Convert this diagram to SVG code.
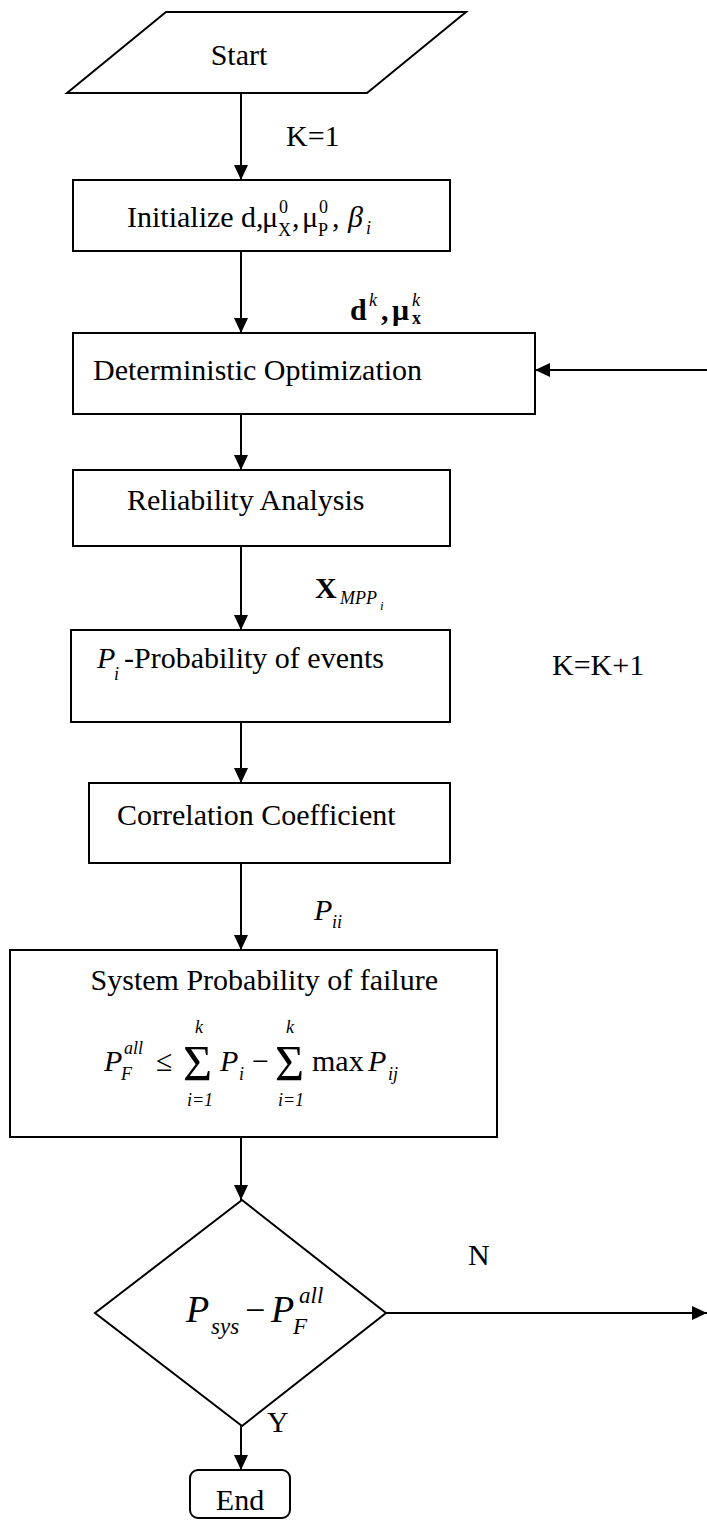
<svg xmlns="http://www.w3.org/2000/svg" width="707" height="1522" viewBox="0 0 707 1522">
<defs>
<style>
.t{font-family:"Liberation Serif","Times New Roman",serif;font-size:30px;fill:#000}
.i{font-style:italic}
.b{font-weight:bold}
.s{font-size:18px}
.box{fill:#fff;stroke:#000;stroke-width:2}
.conn line{stroke:#000;stroke-width:2;fill:none}
</style>
<marker id="ah" viewBox="0 0 15 14" refX="15" refY="7" markerWidth="15" markerHeight="14" markerUnits="userSpaceOnUse" orient="auto">
<path d="M0,0 L15,7 L0,14 z" fill="#000"/>
</marker>
</defs>
<rect width="707" height="1522" fill="#fff"/>

<g id="start">
<polygon class="box" points="166,12 466,12 367,93 67,93"/>
<text class="t" x="239" y="65" text-anchor="middle">Start</text>
</g>

<g id="init">
<rect class="box" x="73" y="180" width="377" height="71"/>
<text class="t" x="127" y="227">Initialize d,</text>
<text class="t" x="262" y="227">μ</text>
<text class="t s" x="279" y="213">0</text>
<text class="t s" x="278" y="236">X</text>
<text class="t" x="292" y="227">,</text>
<text class="t" x="302" y="227">μ</text>
<text class="t s" x="319" y="213">0</text>
<text class="t s" x="318" y="236">P</text>
<text class="t" x="332" y="227">,</text>
<text class="t i" x="348" y="227">β</text>
<text class="t i s" x="366" y="234">i</text>
</g>

<g id="determ">
<rect class="box" x="73" y="333" width="462" height="81"/>
<text class="t" x="93" y="380">Deterministic Optimization</text>
</g>

<g id="reliab">
<rect class="box" x="73" y="470" width="377" height="76"/>
<text class="t" x="127" y="510">Reliability Analysis</text>
</g>

<g id="prob">
<rect class="box" x="71" y="630" width="379" height="92"/>
<text class="t i" x="97" y="668">P</text>
<text class="t i s" x="114" y="680">i</text>
<text class="t" x="124" y="668">-Probability of events</text>
</g>

<g id="corr">
<rect class="box" x="89" y="783" width="361" height="80"/>
<text class="t" x="117" y="825">Correlation Coefficient</text>
</g>

<g id="system">
<rect class="box" x="10" y="950" width="487" height="187"/>
<text class="t" x="438" y="990" text-anchor="end">System Probability of failure</text>
<text class="t i" x="104" y="1071">P</text>
<text class="t i s" x="124" y="1054">all</text>
<text class="t i s" x="121" y="1080">F</text>
<text class="t" x="156" y="1071">≤</text>
<text class="t" x="183" y="1080" style="font-size:50px">Σ</text>
<text class="t i s" x="199" y="1033" text-anchor="middle">k</text>
<text class="t i s" x="200" y="1106" text-anchor="middle">i=1</text>
<text class="t i" x="220" y="1071">P</text>
<text class="t i s" x="239" y="1080">i</text>
<text class="t" x="252" y="1071">−</text>
<text class="t" x="275" y="1080" style="font-size:50px">Σ</text>
<text class="t i s" x="290" y="1033" text-anchor="middle">k</text>
<text class="t i s" x="291" y="1106" text-anchor="middle">i=1</text>
<text class="t" x="312" y="1071">max</text>
<text class="t i" x="368" y="1071">P</text>
<text class="t i s" x="388" y="1080">ij</text>
</g>

<g id="decision">
<polygon class="box" points="242,1200 386,1313 242,1426 95,1313"/>
<text class="t i" x="186" y="1322" style="font-size:38px">P</text>
<text class="t i" x="211" y="1334" style="font-size:23px">sys</text>
<text class="t" x="245" y="1322" style="font-size:36px">−</text>
<text class="t i" x="271" y="1322" style="font-size:38px">P</text>
<text class="t i" x="299" y="1303" style="font-size:23px">all</text>
<text class="t i" x="293" y="1334" style="font-size:23px">F</text>
</g>

<g id="end">
<rect class="box" x="190" y="1470" width="100" height="48" rx="8"/>
<text class="t" x="240" y="1510" text-anchor="middle">End</text>
</g>

<g id="connectors" class="conn">
<line x1="241" y1="93" x2="241" y2="180" marker-end="url(#ah)"/>
<line x1="241" y1="251" x2="241" y2="333" marker-end="url(#ah)"/>
<line x1="241" y1="414" x2="241" y2="470" marker-end="url(#ah)"/>
<line x1="241" y1="546" x2="241" y2="630" marker-end="url(#ah)"/>
<line x1="241" y1="722" x2="241" y2="783" marker-end="url(#ah)"/>
<line x1="241" y1="863" x2="241" y2="950" marker-end="url(#ah)"/>
<line x1="241" y1="1137" x2="241" y2="1200" marker-end="url(#ah)"/>
<line x1="241" y1="1426" x2="241" y2="1470" marker-end="url(#ah)"/>
<line x1="386" y1="1313" x2="707" y2="1313" marker-end="url(#ah)"/>
<line x1="707" y1="370" x2="535" y2="370" marker-end="url(#ah)"/>
</g>

<g id="labels">
<text class="t" x="286" y="146">K=1</text>
<text class="t b" x="350" y="320">d</text>
<text class="t i s" x="369" y="306">k</text>
<text class="t b" x="381" y="320">,</text>
<text class="t b" x="392" y="320">μ</text>
<text class="t i s" x="412" y="306">k</text>
<text class="t b s" x="412" y="324">x</text>
<text class="t b" x="315" y="598">X</text>
<text class="t i s" x="340" y="604">MPP</text>
<text class="t i" x="380" y="610" style="font-size:13px">i</text>
<text class="t i" x="314" y="920">P</text>
<text class="t i s" x="332" y="928">ii</text>
<text class="t" x="552" y="675">K=K+1</text>
<text class="t" x="468" y="1265">N</text>
<text class="t" x="267" y="1432">Y</text>
</g>
</svg>
